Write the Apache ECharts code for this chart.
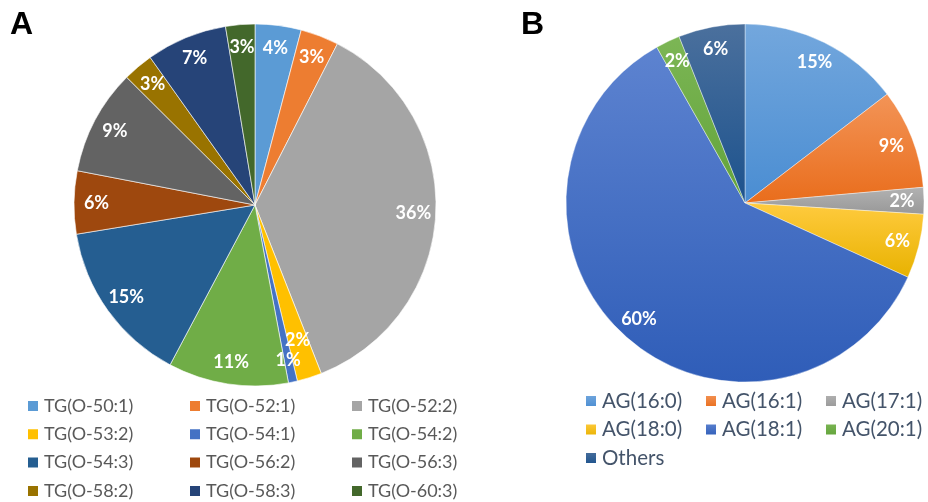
<!DOCTYPE html>
<html>
<head>
<meta charset="utf-8">
<script src="https://cdn.jsdelivr.net/npm/echarts@6/dist/echarts.min.js"></script>
<style>
  html, body { margin: 0; padding: 0; background: #fff; }
  #chart-wrapper { width: 928px; height: 502px; }
</style>
</head>
<body>
<div id="chart-wrapper"></div>
<script>
// panel A: TG species (share, %)
var tgNames = ['TG(O-50:1)', 'TG(O-52:1)', 'TG(O-52:2)', 'TG(O-53:2)', 'TG(O-54:1)', 'TG(O-54:2)',
               'TG(O-54:3)', 'TG(O-56:2)', 'TG(O-56:3)', 'TG(O-58:2)', 'TG(O-58:3)', 'TG(O-60:3)'];
var tgValues = [4.1, 3.4, 36.4, 2.2, 0.8, 10.7, 14.6, 5.6, 9.4, 2.7, 7.2, 2.6];

// panel B: AG species (share, %)
var agNames = ['AG(16:0)', 'AG(16:1)', 'AG(17:1)', 'AG(18:0)', 'AG(18:1)', 'AG(20:1)', 'Others'];
var agValues = [14.6, 9.0, 2.4, 5.8, 60.0, 2.2, 6.0];

// office colours
var tgColors = ['#5b9bd5', '#ed7d31', '#a5a5a5', '#ffc000', '#4472c4', '#70ad47',
                '#255e91', '#9e480e', '#636363', '#997300', '#264478', '#43682b'];
var agColors = [['#73a7dd', '#4a8dd2'], ['#f39457', '#e96d1c'], ['#b2b2b2', '#989898'],
                ['#ffcb3f', '#e8b200'], ['#5d83d0', '#2f5db8'], ['#7cb655', '#62a33a'],
                ['#4b709d', '#1c528d']];

function grad(c) {
	return new echarts.graphic.LinearGradient(0, 0, 0, 1, [
		{ offset: 0, color: c[0] }, { offset: 1, color: c[1] }
	]);
}

var tgData = tgNames.map(function (n, i) {
	return { name: n, value: tgValues[i], itemStyle: { color: tgColors[i] } };
});
var agData = agNames.map(function (n, i) {
	return { name: n, value: agValues[i], itemStyle: { color: grad(agColors[i]) } };
});

// label layer: transparent ring so the text sits near the rim like excel does
// only: show just this index (-1 = all), skip: hide this index
function labelRing(list, only, skip) {
	return list.map(function (n, i) {
		var d = { name: n.name, value: n.value, itemStyle: { color: 'rgba(0,0,0,0)' } };
		if ((only >= 0 && i !== only) || i === skip) d.label = { show: false };
		return d;
	});
}

var pctLabel = {
	show: true,
	position: 'inside',
	color: '#fff',
	fontFamily: 'Lato',
	fontWeight: 'bold',
	fontSize: 18,
	formatter: function (p) { return Math.round(p.value) + '%'; }
};

function legendCol(left, top, names, color, fs, gap) {
	return {
		orient: 'vertical',
		left: left,
		top: top,
		padding: 0,
		data: names,
		icon: 'rect',
		itemWidth: 12,
		itemHeight: 12,
		itemGap: gap,
		selectedMode: false,
		textStyle: { fontFamily: 'Lato', fontSize: fs, lineHeight: fs, color: color }
	};
}

var myChart = echarts.init(document.getElementById('chart-wrapper'));

var titleStyle = { fontFamily: 'Liberation Sans', fontWeight: 'bold', fontSize: 32, color: '#000' };

var option = {
	animation: false,
	title: [
		{ text: 'A', left: 5, top: 4, textStyle: titleStyle },
		{ text: 'B', left: 516, top: 4, textStyle: titleStyle }
	],
	legend: [
		legendCol(26, 397, [tgNames[0], tgNames[3], tgNames[6], tgNames[9]], '#595959', 18, 10.3),
		legendCol(188, 397, [tgNames[1], tgNames[4], tgNames[7], tgNames[10]], '#595959', 18, 10.3),
		legendCol(350, 397, [tgNames[2], tgNames[5], tgNames[8], tgNames[11]], '#595959', 18, 10.3),
		legendCol(584, 390.5, [agNames[0], agNames[3], agNames[6]], '#44546a', 20.5, 7.5),
		legendCol(704, 390.5, [agNames[1], agNames[4]], '#44546a', 20.5, 7.5),
		legendCol(824, 390.5, [agNames[2], agNames[5]], '#44546a', 20.5, 7.5)
	],
	series: [
		{
			type: 'pie',
			center: [255, 205],
			radius: [0, 181],
			startAngle: 90,
			silent: true,
			label: { show: false },
			labelLine: { show: false },
			itemStyle: { borderColor: '#fff', borderWidth: 0.6 },
			data: tgData
		},
		{
			type: 'pie',
			center: [255, 205],
			radius: [130, 181],
			startAngle: 90,
			silent: true,
			label: pctLabel,
			labelLine: { show: false },
			labelLayout: { hideOverlap: false },
			data: labelRing(tgData, -1, 3)
		},
		{
			// the 2% (O-53:2) label sits further in so it clears the 1% one
			type: 'pie',
			center: [255, 205],
			radius: [96, 181],
			startAngle: 90,
			silent: true,
			label: pctLabel,
			labelLine: { show: false },
			labelLayout: { hideOverlap: false },
			data: labelRing(tgData, 3, -1)
		},
		{
			type: 'pie',
			center: [745, 203],
			radius: [0, 179],
			startAngle: 90,
			silent: true,
			label: { show: false },
			labelLine: { show: false },
			itemStyle: { borderColor: '#fff', borderWidth: 0.4 },
			data: agData
		},
		{
			type: 'pie',
			center: [745, 203],
			radius: [129, 179],
			startAngle: 90,
			silent: true,
			label: pctLabel,
			labelLine: { show: false },
			data: labelRing(agData, -1, -1)
		}
	]
};

myChart.setOption(option);
</script>
</body>
</html>
